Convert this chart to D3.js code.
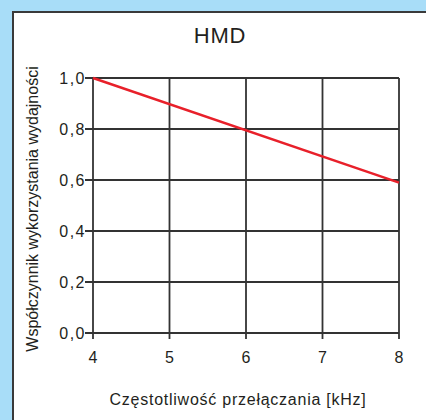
<!DOCTYPE html>
<html>
<head>
<meta charset="utf-8">
<style>
  body { margin: 0; background: #a8ddf8; }
  svg { display: block; }
  text { font-family: "Liberation Sans", Arial, sans-serif; fill: #231f20; }
</style>
</head>
<body>
<script src="https://cdn.jsdelivr.net/npm/d3@7"></script>
<script>
var title = "HMD";
var xLabel = "Częstotliwość przełączania [kHz]";
var yLabel = "Współczynnik wykorzystania wydajności";
var xTicks = [4, 5, 6, 7, 8];
var yTicks = [0, 0.2, 0.4, 0.6, 0.8, 1.0];
var freq = [4, 8];
var factor = [1.0, 0.59];

var W = 426, H = 420;
var svg = d3.select("body").append("svg").attr("width", W).attr("height", H);

// white panel, cut off at right and bottom
svg.append("rect").attr("x", 13).attr("y", 12).attr("width", 430).attr("height", 430)
  .attr("fill", "#fff").attr("stroke", "#3a3a3a").attr("stroke-width", 2);

var x = d3.scaleLinear().domain([4, 8]).range([93, 399]);
var y = d3.scaleLinear().domain([0, 1]).range([333, 78]);

var grid = svg.append("g").attr("stroke", "#333").attr("stroke-width", 1.8);
grid.selectAll(".v").data(xTicks).enter().append("line")
  .attr("x1", d => x(d)).attr("x2", d => x(d))
  .attr("y1", y(1)).attr("y2", y(0) + 6);
grid.selectAll(".h").data(yTicks).enter().append("line")
  .attr("x1", x(4) - 8).attr("x2", x(8))
  .attr("y1", d => y(d)).attr("y2", d => y(d));

svg.selectAll(".xt").data(xTicks).enter().append("text")
  .attr("x", d => x(d)).attr("y", y(0) + 30)
  .attr("text-anchor", "middle").attr("font-size", 16)
  .text(d => d);
svg.selectAll(".yt").data(yTicks).enter().append("text")
  .attr("x", x(4) - 7).attr("y", d => y(d) + 6)
  .attr("text-anchor", "end").attr("font-size", 16).attr("letter-spacing", 1.5)
  .text(d => d3.format(".1f")(d).replace(".", ","));

var line = d3.line().x(d => x(d[0])).y(d => y(d[1]));
svg.append("path").datum(d3.zip(freq, factor))
  .attr("d", line).attr("fill", "none")
  .attr("stroke", "#e8202a").attr("stroke-width", 2.4);

svg.append("text").attr("x", 220).attr("y", 43)
  .attr("text-anchor", "middle").attr("font-size", 22).attr("letter-spacing", 0.8).text(title);
svg.append("text").attr("x", 238).attr("y", 405)
  .attr("text-anchor", "middle").attr("font-size", 16).attr("letter-spacing", 0.75).text(xLabel);
svg.append("text").attr("transform", "translate(38," + 209 + ") rotate(-90)")
  .attr("text-anchor", "middle").attr("font-size", 16).text(yLabel);
</script>
</body>
</html>
